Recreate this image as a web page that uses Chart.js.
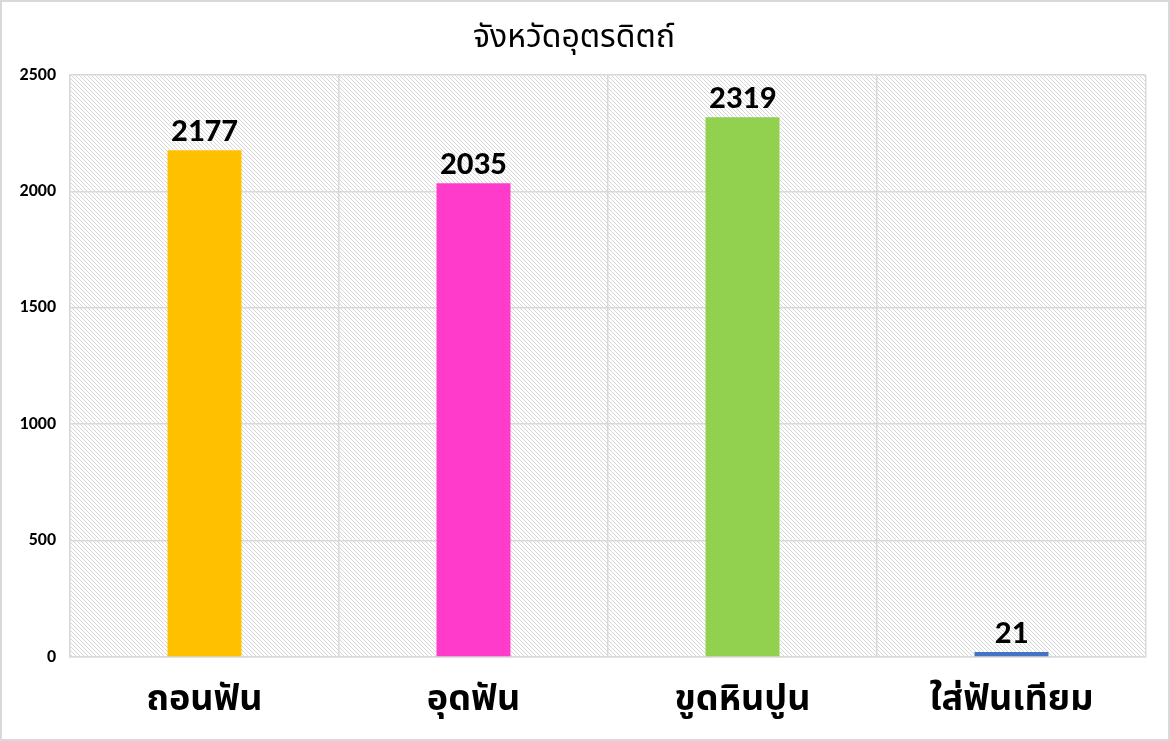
<!DOCTYPE html>
<html>
<head>
<meta charset="utf-8">
<script src="https://cdn.jsdelivr.net/npm/chart.js@4.4.0/dist/chart.umd.min.js"></script>
<style>
  html, body { margin: 0; padding: 0; background: #fff; }
  #wrap { width: 1170px; height: 741px; box-sizing: border-box; border: 2px solid #d9d9d9; position: relative; }
</style>
</head>
<body>
<div id="wrap"><canvas id="myChart" width="1166" height="737"></canvas></div>
<script>
const categories = ['ถอนฟัน', 'อุดฟัน', 'ขูดหินปูน', 'ใส่ฟันเทียม'];
const values = [2177, 2035, 2319, 21];
const barColors = ['#FFC000', '#FF3BCC', '#92D050', '#4472C4'];
const chartTitle = 'จังหวัดอุตรดิตถ์';

const thaiFont = "Tahoma, 'Noto Sans Thai', 'Leelawadee UI', 'DejaVu Sans', sans-serif";
const numFont = "Calibri, Carlito, 'Liberation Sans', sans-serif";

function makeHatch() {
  const c = document.createElement('canvas');
  c.width = 4; c.height = 4;
  const g = c.getContext('2d');
  g.fillStyle = '#ffffff';
  g.fillRect(0, 0, 4, 4);
  g.fillStyle = '#d6d6d6';
  for (let i = 0; i < 4; i++) g.fillRect(i, i, 1, 1);
  return g.createPattern(c, 'repeat');
}

const hatchBg = {
  id: 'hatchBg',
  beforeDraw(chart) {
    const a = chart.chartArea, ctx = chart.ctx;
    ctx.save();
    ctx.fillStyle = makeHatch();
    ctx.fillRect(a.left, a.top, a.right - a.left, a.bottom - a.top);
    ctx.restore();
  }
};

const valueLabels = {
  id: 'valueLabels',
  afterDatasetsDraw(chart) {
    const ctx = chart.ctx;
    const meta = chart.getDatasetMeta(0);
    ctx.save();
    ctx.font = 'bold 33px ' + numFont;
    ctx.fillStyle = '#000';
    ctx.textAlign = 'center';
    ctx.textBaseline = 'alphabetic';
    meta.data.forEach((bar, i) => {
      ctx.fillText(String(values[i]), bar.x, bar.y - 9);
    });
    ctx.restore();
  }
};

new Chart(document.getElementById('myChart'), {
  type: 'bar',
  data: {
    labels: categories,
    datasets: [{
      data: values,
      backgroundColor: barColors,
      barPercentage: 0.275,
      categoryPercentage: 1
    }]
  },
  options: {
    responsive: false,
    animation: false,
    layout: { padding: { left: 0, right: 22, top: 0, bottom: 0 } },
    plugins: {
      legend: { display: false },
      tooltip: { enabled: false },
      title: {
        display: true,
        text: chartTitle,
        color: '#000',
        font: { family: thaiFont, size: 32, weight: 'normal', lineHeight: 1.2 },
        padding: { top: 19, bottom: 15.6 }
      }
    },
    scales: {
      x: {
        grid: { offset: true, color: '#d9d9d9', lineWidth: 1.5, drawTicks: false },
        border: { color: '#d9d9d9', width: 1.5 },
        ticks: {
          color: '#000',
          padding: 24,
          font: { family: thaiFont, size: 36, weight: 'bold' }
        },
        afterFit(s) { s.height = 82; }
      },
      y: {
        min: 0, max: 2500,
        ticks: {
          stepSize: 500,
          color: '#000',
          padding: 14,
          font: { family: numFont, size: 18, weight: 'bold' },
          callback: v => String(v)
        },
        grid: { color: '#d9d9d9', lineWidth: 1.5, drawTicks: false },
        border: { color: '#d9d9d9', width: 1.5 },
        afterFit(s) { s.width = 68; }
      }
    }
  },
  plugins: [hatchBg, valueLabels]
});
</script>
</body>
</html>
